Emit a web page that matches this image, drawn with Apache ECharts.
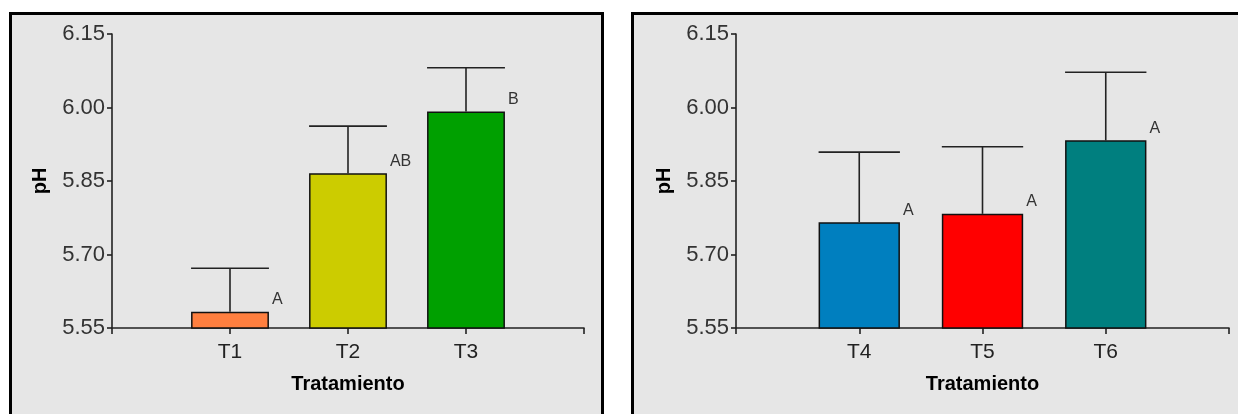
<!DOCTYPE html>
<html>
<head>
<meta charset="utf-8">
<script src="https://cdn.jsdelivr.net/npm/echarts@6/dist/echarts.min.js"></script>
<style>
  html, body { margin: 0; padding: 0; background: #fff; }
  #chart { width: 1238px; height: 414px; }
</style>
</head>
<body>
<div id="chart"></div>
<script>
// Treatments, mean pH, upper end of the error bar and significance letters
const catsLeft = ['T1', 'T2', 'T3'];
const meanLeft = [5.583, 5.866, 5.992];
const errTopLeft = [5.672, 5.962, 6.081];
const lettersLeft = ['A', 'AB', 'B'];
const colorsLeft = ['#ff7f3f', '#cccc00', '#00a000'];

const catsRight = ['T4', 'T5', 'T6'];
const meanRight = [5.766, 5.783, 5.933];
const errTopRight = [5.909, 5.920, 6.072];
const lettersRight = ['A', 'A', 'A'];
const colorsRight = ['#007fbf', '#ff0000', '#007f7f'];

const yTicks = [5.55, 5.70, 5.85, 6.00, 6.15];

const FONT = 'Arial, "Liberation Sans", sans-serif';
const AXIS_COLOR = '#222';

const grids = [
  { left: 112, top: 34, width: 472, height: 294 },
  { left: 736, top: 34, width: 493, height: 294 }
];

function xAxisFor(i, cats) {
  return {
    type: 'value', gridIndex: i, min: 0, max: cats.length + 1, interval: 1,
    splitLine: { show: false },
    axisLine: { show: true, lineStyle: { color: AXIS_COLOR, width: 1.6 } },
    axisTick: { show: true, length: 6, lineStyle: { color: AXIS_COLOR, width: 1.6 } },
    axisLabel: {
      margin: 14, fontSize: 21, color: '#222', fontFamily: FONT,
      formatter: v => cats[v - 1] || ''
    },
    name: 'Tratamiento', nameLocation: 'middle', nameGap: 46,
    nameTextStyle: { fontSize: 20, fontWeight: 'bold', color: '#000', fontFamily: FONT }
  };
}

function yAxisFor(i) {
  return {
    type: 'value', gridIndex: i, min: yTicks[0], max: yTicks[yTicks.length - 1],
    interval: 0.15,
    splitLine: { show: false },
    axisLine: { show: true, lineStyle: { color: AXIS_COLOR, width: 1.6 } },
    axisTick: { show: true, length: 5, lineStyle: { color: AXIS_COLOR, width: 1.6 } },
    axisLabel: {
      margin: 7, fontSize: 22, color: '#333', fontFamily: FONT,
      formatter: v => v.toFixed(2)
    },
    name: 'pH', nameLocation: 'middle', nameGap: 62, nameRotate: 90,
    nameTextStyle: { fontSize: 20, fontWeight: 'bold', color: '#000', fontFamily: FONT }
  };
}

function barSeries(i, means, colors, letters, gridW, n) {
  const bw = gridW / (n + 1) * 0.66;
  return {
    type: 'bar', xAxisIndex: i, yAxisIndex: i, barWidth: bw,
    data: means.map((m, k) => ({
      value: [k + 1, m],
      itemStyle: { color: colors[k], borderColor: '#111', borderWidth: 1.5 }
    })),
    label: {
      show: true, position: ['100%', 0], align: 'left', verticalAlign: 'bottom',
      offset: [3, -4], fontSize: 16, lineHeight: 16, color: '#333', fontFamily: FONT,
      formatter: p => letters[p.dataIndex]
    },
    z: 3
  };
}

function errSeries(i, means, tops) {
  return {
    type: 'custom', xAxisIndex: i, yAxisIndex: i,
    data: means.map((m, k) => [k + 1, m, tops[k]]),
    renderItem: (params, api) => {
      const x = api.value(0);
      const base = api.coord([x, api.value(1)]);
      const top = api.coord([x, api.value(2)]);
      const half = api.size([1, 0])[0] * 0.33;
      const style = { stroke: AXIS_COLOR, lineWidth: 1.6 };
      return {
        type: 'group', children: [
          { type: 'line', shape: { x1: base[0], y1: base[1], x2: top[0], y2: top[1] }, style },
          { type: 'line', shape: { x1: top[0] - half, y1: top[1], x2: top[0] + half, y2: top[1] }, style }
        ]
      };
    },
    z: 2
  };
}

const chart = echarts.init(document.getElementById('chart'), null, { renderer: 'canvas' });
chart.setOption({
  animation: false,
  backgroundColor: '#fff',
  graphic: [
    { type: 'rect', z: -10, silent: true,
      shape: { x: 10.5, y: 13.5, width: 592, height: 440 },
      style: { fill: '#e6e6e6', stroke: '#000', lineWidth: 3 } },
    { type: 'rect', z: -10, silent: true,
      shape: { x: 632.5, y: 13.5, width: 700, height: 440 },
      style: { fill: '#e6e6e6', stroke: '#000', lineWidth: 3 } }
  ],
  grid: grids,
  xAxis: [xAxisFor(0, catsLeft), xAxisFor(1, catsRight)],
  yAxis: [yAxisFor(0), yAxisFor(1)],
  series: [
    errSeries(0, meanLeft, errTopLeft),
    barSeries(0, meanLeft, colorsLeft, lettersLeft, grids[0].width, catsLeft.length),
    errSeries(1, meanRight, errTopRight),
    barSeries(1, meanRight, colorsRight, lettersRight, grids[1].width, catsRight.length)
  ]
});
</script>
</body>
</html>
